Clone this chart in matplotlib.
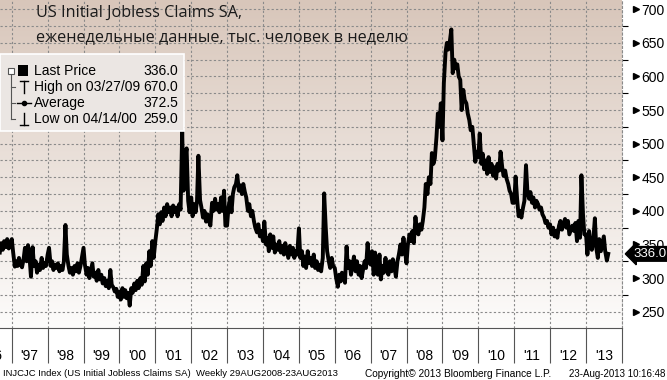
import numpy as np
import pandas as pd
import matplotlib
matplotlib.use("Agg")
import matplotlib.pyplot as plt
import matplotlib.dates as mdates
from matplotlib.lines import Line2D
from matplotlib.patches import Rectangle
from matplotlib.ticker import MultipleLocator, FixedLocator, NullFormatter
from matplotlib.transforms import blended_transform_factory

plt.rcParams['font.family'] = ['Liberation Sans', 'DejaVu Sans']

W, H = 667, 380

claims_1996 = [338, 352, 342, 355, 346, 358, 344, 350]  # Sep..Dec
claims_1997 = [358, 338, 317, 325, 318, 330, 320, 316, 328, 345, 325, 349,
               330, 302, 346, 318, 325, 308, 320, 312, 330, 315, 322, 318]
claims_1998 = [335, 345, 318, 325, 312, 320, 315, 322, 310, 318, 312, 325,
               379, 335, 318, 308, 315, 305, 318, 310, 322, 308, 318, 330]
claims_1999 = [345, 320, 305, 315, 300, 310, 322, 302, 308, 296, 312, 298,
               305, 292, 300, 288, 296, 285, 312, 290, 286, 280, 284, 272]
claims_2000 = [280, 268, 285, 272, 282, 270, 278, 259, 285, 278, 292, 282,
               296, 285, 300, 290, 318, 295, 322, 305, 340, 318, 355, 330]
claims_2001 = [355, 372, 395, 380, 398, 385, 405, 392, 410, 398, 405, 392,
               408, 398, 405, 392, 410, 402, 518, 430, 480, 493, 415, 398]
claims_2002 = [420, 392, 410, 398, 415, 482, 416, 405, 390, 400, 384, 395,
               385, 378, 412, 400, 418, 402, 410, 398, 420, 400, 430, 378]
claims_2003 = [378, 405, 420, 398, 425, 435, 440, 453, 430, 438, 425, 440,
               428, 420, 400, 410, 392, 400, 385, 375, 368, 380, 362, 370]
claims_2004 = [355, 384, 350, 360, 340, 365, 345, 362, 338, 350, 342, 355,
               338, 348, 335, 352, 340, 330, 348, 335, 345, 330, 340, 335]
claims_2005 = [374, 330, 340, 318, 332, 315, 340, 322, 330, 318, 335, 315,
               325, 312, 320, 310, 330, 426, 375, 340, 325, 315, 330, 318]
claims_2006 = [315, 300, 287, 305, 295, 308, 300, 293, 347, 315, 325, 305,
               320, 332, 310, 325, 305, 318, 300, 312, 325, 315, 352, 325]
claims_2007 = [320, 340, 305, 338, 315, 305, 335, 298, 318, 308, 330, 312,
               305, 325, 310, 328, 315, 302, 325, 335, 350, 335, 360, 342]
claims_2008 = [322, 350, 365, 355, 370, 352, 391, 370, 365, 380, 372, 385,
               405, 440, 425, 450, 440, 486, 470, 478, 510, 545, 525, 560]
claims_2009 = [505, 590, 636, 650, 640, 650, 670, 605, 625, 612, 618, 600,
               595, 550, 580, 565, 560, 545, 535, 520, 525, 500, 473, 488]
claims_2010 = [480, 515, 470, 485, 462, 475, 455, 480, 458, 470, 452, 465,
               448, 470, 460, 488, 465, 452, 460, 448, 440, 430, 425, 412]
claims_2011 = [412, 451, 415, 392, 400, 390, 405, 415, 468, 430, 418, 428,
               412, 420, 405, 415, 410, 402, 405, 395, 390, 382, 385, 375]
claims_2012 = [380, 365, 375, 362, 370, 360, 378, 385, 372, 380, 388, 375,
               385, 365, 372, 378, 370, 382, 355, 385, 360, 453, 395, 365]
claims_2013 = [365, 335, 370, 350, 342, 355, 389, 345, 330, 358, 340, 350,
               362, 340, 326, 336]  # Jan..Aug 15

claims = (claims_1996 + claims_1997 + claims_1998 + claims_1999 + claims_2000
          + claims_2001 + claims_2002 + claims_2003 + claims_2004 + claims_2005
          + claims_2006 + claims_2007 + claims_2008 + claims_2009 + claims_2010
          + claims_2011 + claims_2012 + claims_2013)
dates = pd.date_range("1996-09-01", periods=len(claims), freq="SMS")

y_ticks = [250, 300, 350, 400, 450, 500, 550, 600, 650, 700]

legend_labels = ["Last Price", "High on 03/27/09", "Average", "Low on 04/14/00"]
legend_values = ["336.0", "670.0", "372.5", "259.0"]

title_1 = "US Initial Jobless Claims SA,"
title_2 = "еженедельные данные, тыс. человек в неделю"
footer_left = "INJCJC Index (US Initial Jobless Claims SA)  Weekly 29AUG2008-23AUG2013"
footer_mid = "Copyright© 2013 Bloomberg Finance L.P."
footer_right = "23-Aug-2013 10:16:48"


def fx(px):
    return px / W


def fy(py):
    return 1 - py / H


fig = plt.figure(figsize=(W / 100, H / 100), dpi=100)
fig.patch.set_facecolor("white")

plot_w, plot_h = 622, 328
rect = [0, fy(plot_h), fx(plot_w), plot_h / H]

# gradient background behind the plot
bg = fig.add_axes(rect, zorder=0)
g = np.linspace(0, 1, 256)[:, None, None]
c_top = np.array([216, 198, 186]) / 255
c_bot = np.array([253, 252, 251]) / 255
bg.imshow(c_top + (c_bot - c_top) * g, aspect="auto", extent=[0, 1, 0, 1])
bg.axis("off")

ax = fig.add_axes(rect, zorder=1)
ax.patch.set_alpha(0)

ax.plot(dates, claims, color="black", lw=2.8, zorder=3, solid_joinstyle="round")

ax.set_xlim(pd.Timestamp("1996-09-03"), pd.Timestamp("2014-01-02"))
ax.set_ylim(225.7, 713.8)

# x axis: long separators at Jan 1, labels mid-year
ax.xaxis.set_major_locator(mdates.YearLocator())
ax.xaxis.set_major_formatter(NullFormatter())
ax.xaxis.set_minor_locator(mdates.MonthLocator(bymonth=7))
ax.xaxis.set_minor_formatter(mdates.DateFormatter("'%y"))
ax.tick_params(axis="x", which="major", length=25, width=0.8, color="#555555")
ax.tick_params(axis="x", which="minor", length=0, pad=15, labelsize=10)
ax.text(pd.Timestamp("1996-07-01"), -21 / plot_h, "'96", transform=ax.get_xaxis_transform(),
        ha="center", va="top", fontsize=10, clip_on=False)

# y axis on the right
ax.yaxis.tick_right()
ax.yaxis.set_major_locator(FixedLocator(y_ticks))
ax.yaxis.set_minor_locator(MultipleLocator(25))
ax.tick_params(axis="y", which="major", length=0, pad=14, labelsize=10)
ax.tick_params(axis="y", which="minor", length=4, width=0.8, color="black")
tr = blended_transform_factory(ax.transAxes, ax.transData)
ax.plot([1 + 14 / plot_w] * len(y_ticks), y_ticks, ls="none", marker=">", ms=5,
        color="black", transform=tr, clip_on=False)

ax.xaxis.grid(True, which="major", color="#8a8a8a", ls=(0, (2, 2)), lw=0.8)
ax.yaxis.grid(True, which="both", color="#8a8a8a", ls=(0, (2, 2)), lw=0.8)

for s in ["top", "left"]:
    ax.spines[s].set_visible(False)
ax.spines["bottom"].set_color("#555555")
ax.spines["bottom"].set_linewidth(0.8)
ax.spines["right"].set_color("#8a8a8a")
ax.spines["right"].set_linestyle((0, (2, 2)))
ax.spines["right"].set_linewidth(0.8)

# last price tag
ax.text(1 + 11 / plot_w, claims[-1], f"{claims[-1]:.1f}", transform=tr, color="white",
        fontsize=9.5, va="center", ha="left", clip_on=False, zorder=5,
        bbox=dict(boxstyle="larrow,pad=0.1", fc="black", ec="black"))

# titles
fig.text(fx(36), fy(13), title_1, fontsize=11.7, va="center", color="#1a1a1a",
         family=["Open Sans", "DejaVu Sans"], zorder=6)
fig.text(fx(36), fy(37), title_2, fontsize=11.7, va="center", color="#1a1a1a",
         family=["Open Sans", "DejaVu Sans"], zorder=6)

# legend box
fig.add_artist(Rectangle((0, fy(131)), fx(184), 77 / H, transform=fig.transFigure,
                         fc="#ebe6e3", ec="white", lw=1.2, zorder=5))
rows_y = [71, 87, 103, 119]
for lab, val, ry in zip(legend_labels, legend_values, rows_y):
    fig.text(fx(34), fy(ry), lab, fontsize=10, va="center", zorder=6)
    fig.text(fx(178), fy(ry), val, fontsize=10, va="center", ha="right", zorder=6)


def fline(xs, ys, **kw):
    fig.add_artist(Line2D([fx(v) for v in xs], [fy(v) for v in ys],
                          transform=fig.transFigure, zorder=6, **kw))


# tree connector
fline([11, 11], [74, 119], color="#555555", lw=0.8)
for ry in rows_y[1:]:
    fline([11, 15], [ry, ry], color="#555555", lw=0.8)
fig.add_artist(Rectangle((fx(8), fy(74)), fx(6), 6 / H, transform=fig.transFigure,
                         fc="white", ec="#555555", lw=0.8, zorder=7))
fline([9.5, 12.5], [71, 71], color="#333333", lw=0.8)
fig.add_artist(Rectangle((fx(18), fy(76)), fx(10), 11 / H, transform=fig.transFigure,
                         fc="black", ec="black", lw=0, zorder=7))
# high
fline([24, 24], [81, 93], color="black", lw=1)
fline([20, 28], [81, 81], color="black", lw=1)
# average
fline([17, 31], [103, 103], color="black", lw=1)
fline([24], [103], color="black", marker="o", ms=3)
# low
fline([24, 24], [113, 125], color="black", lw=1)
fline([20, 28], [125, 125], color="black", lw=1)

# footer
fig.text(fx(3), fy(374), footer_left, fontsize=6.8, va="center")
fig.text(fx(365), fy(374), footer_mid, fontsize=7.3, va="center")
fig.text(fx(665), fy(374), footer_right, fontsize=7, va="center", ha="right")

fig.savefig("out.png", dpi=100)
